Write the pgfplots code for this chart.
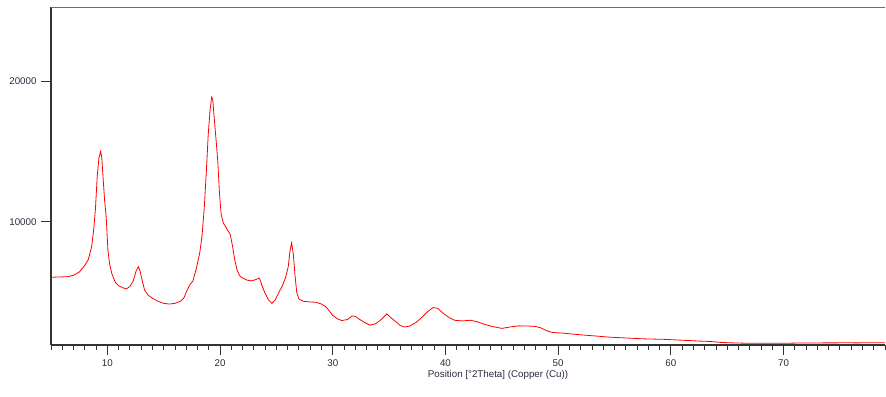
\documentclass[border=0pt]{standalone}
\usepackage{fontspec}
\setmainfont{Liberation Sans}
\usepackage{pgfplots}
\pgfplotsset{compat=1.18}
\definecolor{axgray}{HTML}{333333}
\definecolor{topgray}{HTML}{6E6E6E}
\definecolor{txt}{HTML}{2A2A40}
\begin{document}
\begin{tikzpicture}
\begin{axis}[
  scale only axis,
  width=834bp, height=337.5bp,
  xmin=5, xmax=79, ymin=1240, ymax=25230,
  axis x line*=bottom, axis y line*=left,
  axis line style={-, axgray, line width=1.1bp},
  tick align=outside,
  xtick={10,20,...,70},
  minor xtick={5,6,...,79},
  ytick={10000,20000},
  minor ytick={},
  scaled y ticks=false,
  scaled x ticks=false,
  major tick length=10bp,
  minor tick length=5bp,
  tick style={axgray, line width=0.9bp},
  /pgf/number format/assume math mode=true,
  /pgf/number format/1000 sep={},
  tick label style={font=\fontsize{9.8}{11}\selectfont, text=txt},
  xticklabel style={yshift=-1bp},
  yticklabel style={xshift=-1bp},
  xlabel={Position [°2Theta] (Copper (Cu))},
  xlabel style={font=\fontsize{9.8}{11}\selectfont, text=txt, at={(axis description cs:0.536,0)}, anchor=north, yshift=-22bp},
  clip=true,
]
\draw[topgray, line width=1.1bp] (rel axis cs:0,1) -- (rel axis cs:1.002,1);
\addplot[red, line width=0.8bp, mark=none] coordinates {
(5.0,6050) (5.5,6070) (6.0,6080) (6.5,6100) (7.0,6200) (7.5,6420) (8.0,6900) (8.3,7300)
(8.6,8200) (8.8,9500) (8.95,11000) (9.1,13200) (9.25,14500) (9.4,15000) (9.5,14600)
(9.6,13400) (9.75,11600) (9.9,10300) (10.05,8000) (10.2,7000) (10.4,6300) (10.7,5700)
(11.0,5450) (11.4,5300) (11.7,5230) (12.0,5400) (12.3,5800) (12.55,6500) (12.75,6800)
(12.9,6500) (13.1,5800) (13.3,5150) (13.6,4800) (14.0,4560) (14.5,4350) (15.0,4200)
(15.5,4150) (16.0,4200) (16.5,4350) (16.8,4600) (17.0,5000) (17.3,5500) (17.6,5800)
(17.9,6700) (18.2,7800) (18.4,9000) (18.6,11000) (18.8,13800) (18.95,16200) (19.1,17800)
(19.25,18850) (19.35,18700) (19.5,17200) (19.65,15800) (19.8,14300) (19.95,12000)
(20.1,10500) (20.3,9900) (20.6,9500) (20.9,9100) (21.1,8300) (21.3,7300) (21.5,6600)
(21.75,6150) (22.0,6000) (22.4,5850) (22.8,5800) (23.2,5900) (23.5,6000) (23.7,5500)
(24.0,4900) (24.3,4450) (24.6,4200) (24.9,4450) (25.2,4950) (25.5,5400) (25.8,6000)
(26.05,6800) (26.2,7900) (26.35,8500) (26.5,7700) (26.65,6200) (26.8,5000) (27.0,4500)
(27.4,4350) (28.0,4300) (28.5,4280) (29.0,4150) (29.4,3950) (29.7,3650) (30.0,3350)
(30.4,3100) (30.8,2980) (31.3,3050) (31.7,3300) (32.0,3280) (32.4,3050) (32.8,2850)
(33.3,2650) (33.8,2750) (34.3,3050) (34.8,3450) (35.2,3150) (35.6,2900) (36.0,2620)
(36.4,2520) (36.8,2580) (37.4,2850) (37.9,3200) (38.4,3600) (38.9,3900) (39.3,3850)
(39.8,3500) (40.3,3200) (40.8,3000) (41.5,2950) (42.2,3000) (42.8,2900) (43.5,2700)
(44.2,2550) (45.0,2420) (45.8,2530) (46.5,2600) (47.3,2590) (48.0,2560) (48.5,2450)
(49.0,2250) (49.5,2130) (50.5,2080) (51.5,2000) (52.5,1930) (53.5,1870) (54.5,1800)
(55.5,1760) (56.5,1720) (57.5,1680) (58.5,1660) (59.5,1640) (60.5,1600) (61.5,1560)
(62.5,1520) (63.5,1490) (64.5,1420) (65.5,1390) (66.5,1370) (67.5,1360) (68.5,1360)
(69.5,1360) (70.5,1370) (71.5,1380) (72.5,1380) (73.5,1390) (74.5,1390) (75.5,1400)
(76.5,1390) (77.5,1400) (78.6,1400) (79,1400)
};
\end{axis}
\pgfresetboundingbox
\useasboundingbox ([shift={(-51bp,-51bp)}]current axis.south west) rectangle ([shift={(1bp,7.5bp)}]current axis.north east);
\end{tikzpicture}
\end{document}
